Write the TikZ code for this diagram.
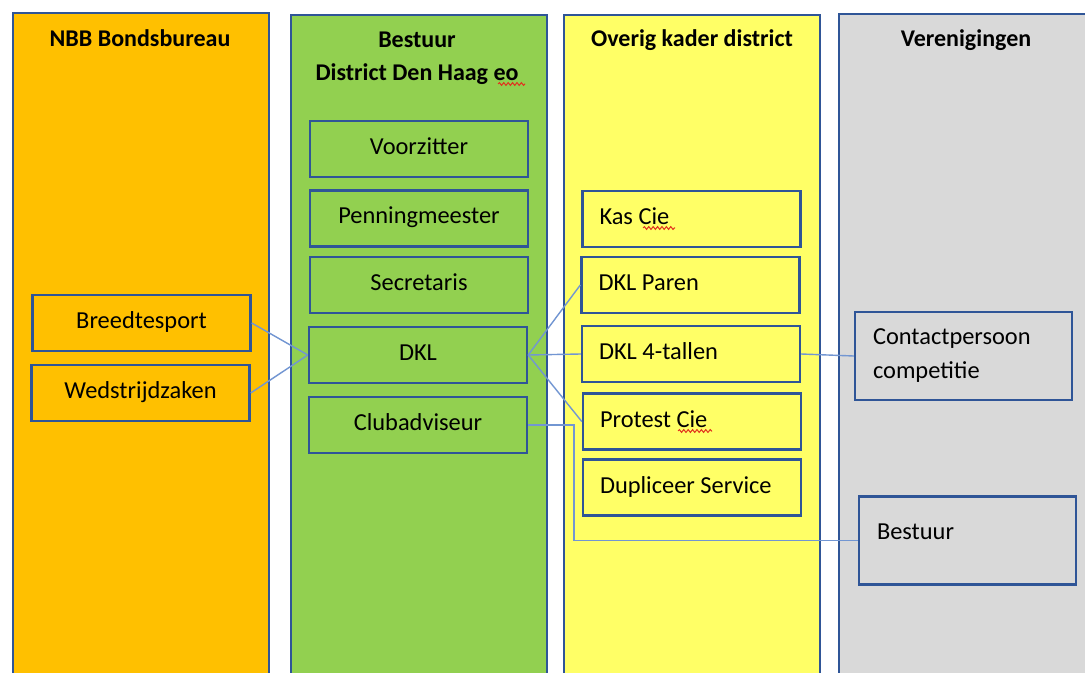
\documentclass[tikz,border=0pt]{standalone}
\usepackage{fontspec}
\setmainfont{Carlito}
\usetikzlibrary{decorations.pathmorphing}
\definecolor{rand}{RGB}{47,85,151}
\definecolor{lijnblauw}{RGB}{114,150,210}
\definecolor{oranje}{RGB}{255,192,0}
\definecolor{groen}{RGB}{146,208,80}
\definecolor{geel}{RGB}{255,255,102}
\definecolor{grijs}{RGB}{217,217,217}
\definecolor{kronkel}{RGB}{225,50,30}

\begin{document}
\begin{tikzpicture}[x=0.5pt,y=-0.5pt,
  every node/.style={font=\fontsize{12.2}{17}\selectfont},
  kolom/.style={draw=rand,line width=1pt,anchor=north west,minimum width=128pt,minimum height=360pt},
  kop/.style={font=\fontsize{12}{16.5}\selectfont\bfseries,align=center},
  vak/.style={draw=rand,line width=1.2pt,minimum width=109pt,minimum height=28pt,text height=8pt,text depth=2.5pt},
  vaklinks/.style={vak,align=flush left,inner xsep=8.5pt,text width=92pt},
  vakgrijs/.style={draw=rand,line width=1.2pt,minimum height=44pt,align=flush left,inner xsep=9pt,text width=90.5pt},
  lijn/.style={draw=lijnblauw,line width=0.7pt},
  golf/.style={draw=kronkel,line width=0.5pt,decorate,decoration={snake,segment length=2.2pt,amplitude=0.7pt}}]
\useasboundingbox (0,0) rectangle (1085,673);
\clip (0,0) rectangle (1085,673);
\fill[white] (0,0) rectangle (1085,673);
\node[kolom,fill=oranje] (nbb) at (12,12) {};
\node[kolom,fill=groen] (district) at (290,14) {};
\node[kolom,fill=geel] (kader) at (563,14) {};
\node[kolom,fill=grijs] (verenigingen) at (838,13) {};
\node[kop] (nbbkop) at (140,38) {NBB Bondsbureau};
\node[kop] (districtkop) at (417,58) {Bestuur\\District Den Haag eo};
\node[kop] (kaderkop) at (692,40) {Overig kader district};
\node[kop] (verenigingenkop) at (966,40) {Verenigingen};
\node[vak] (breed) at (141.5,323) {Breedtesport};
\node[vak] (wed) at (140.5,393) {Wedstrijdzaken};
\node[vak] (voorz) at (419,149) {Voorzitter};
\node[vak] (penn) at (419,218.5) {Penningmeester};
\node[vak] (secr) at (419,285) {Secretaris};
\node[vak] (dkl) at (418,355) {DKL};
\node[vak] (club) at (418,425) {Clubadviseur};
\node[vaklinks] (kas) at (691.5,219) {Kas Cie};
\node[vaklinks] (paren) at (690.5,285) {DKL Paren};
\node[vaklinks] (vier) at (691,354) {DKL 4-tallen};
\node[vaklinks] (protest) at (692,421.5) {Protest Cie};
\node[vaklinks] (dupl) at (692,487.5) {Dupliceer Service};
\node[vakgrijs] (contact) at (963.5,356) {Contactpersoon\\competitie};
\node[vakgrijs,text height=9pt,text depth=9.7pt] (vbestuur) at (967.5,540.5) {Bestuur};
\draw[lijn] (breed.east) -- (dkl.west);
\draw[lijn] (wed.east) -- (dkl.west);
\draw[lijn] (dkl.east) -- (paren.west);
\draw[lijn] (dkl.east) -- (vier.west);
\draw[lijn] (dkl.east) -- (protest.west);
\draw[lijn] (vier.east) -- (contact.west);
\coordinate (knik) at (574,480);
\draw[lijn] (club.east) -| (knik) |- (vbestuur.west);
\draw[golf] (498,84) -- (525,84);
\draw[golf] (643,228) -- (675,228);
\draw[golf] (678,431) -- (712,431);
\end{tikzpicture}
\end{document}
